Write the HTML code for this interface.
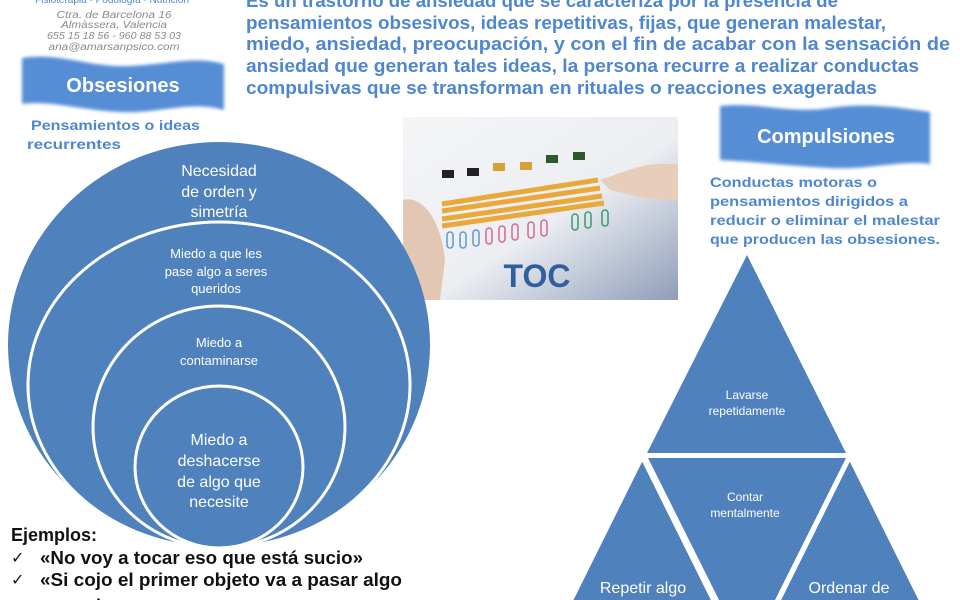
<!DOCTYPE html>
<html><head><meta charset="utf-8"><style>
html,body{margin:0;padding:0;background:#fff;width:960px;height:600px;overflow:hidden}
svg{display:block}
text{font-family:"Liberation Sans",Arial,sans-serif}
</style></head><body>
<svg width="960" height="600" viewBox="0 0 960 600" xmlns="http://www.w3.org/2000/svg">
<defs>
<filter id="bl" x="-5%" y="-10%" width="110%" height="120%"><feGaussianBlur stdDeviation="1.5"/></filter>
<linearGradient id="ph" x1="0" y1="0" x2="1" y2="1">
<stop offset="0" stop-color="#f4f5f7"/><stop offset="0.55" stop-color="#eceef2"/><stop offset="0.8" stop-color="#b9c2d3"/><stop offset="1" stop-color="#8f9db8"/>
</linearGradient>
</defs>

<text x="112" y="3" font-size="10" fill="#4f86d0" text-anchor="middle">Fisioterapia · Podología · Nutrición</text>
<g font-size="10" fill="#8a8a8a" font-style="italic" text-anchor="middle">
<text x="114" y="18" textLength="115" lengthAdjust="spacingAndGlyphs">Ctra. de Barcelona 16</text>
<text x="114" y="28" textLength="106" lengthAdjust="spacingAndGlyphs">Almàssera, Valencia</text>
<text x="114" y="39" textLength="134" lengthAdjust="spacingAndGlyphs">655 15 18 56 - 960 88 53 03</text>
<text x="114" y="50" textLength="131" lengthAdjust="spacingAndGlyphs">ana@amarsanpsico.com</text>
</g>

<g font-size="18" font-weight="bold" fill="#4f86d0">
<text x="246" y="7" textLength="592" lengthAdjust="spacingAndGlyphs">Es un trastorno de ansiedad que se caracteriza por la presencia de</text>
<text x="246" y="29" textLength="640" lengthAdjust="spacingAndGlyphs">pensamientos obsesivos, ideas repetitivas, fijas, que generan malestar,</text>
<text x="246" y="50" textLength="704" lengthAdjust="spacingAndGlyphs">miedo, ansiedad, preocupación, y con el fin de acabar con la sensación de</text>
<text x="246" y="72" textLength="673" lengthAdjust="spacingAndGlyphs">ansiedad que generan tales ideas, la persona recurre a realizar conductas</text>
<text x="246" y="94" textLength="631" lengthAdjust="spacingAndGlyphs">compulsivas que se transforman en rituales o reacciones exageradas</text>
</g>

<path filter="url(#bl)" fill="#578ed6" d="M22,58 C60,52 90,68 130,66 C170,64 195,56 224,64 L224,110 C190,100 160,114 120,112 C80,110 50,100 22,104 Z"/>
<text x="123" y="92" font-size="20" font-weight="bold" fill="#fff" text-anchor="middle">Obsesiones</text>
<path filter="url(#bl)" fill="#578ed6" d="M720,106 C760,102 790,114 830,108 C870,102 900,108 930,112 L930,164 C900,160 870,170 830,168 C790,166 760,162 720,160 Z"/>
<text x="826" y="143" font-size="20" font-weight="bold" fill="#fff" text-anchor="middle">Compulsiones</text>

<g font-size="14" font-weight="bold" fill="#4f86d0">
<text x="31" y="130" textLength="169" lengthAdjust="spacingAndGlyphs">Pensamientos o ideas</text>
<text x="27" y="149" textLength="94" lengthAdjust="spacingAndGlyphs">recurrentes</text>
<text x="710" y="187" textLength="167" lengthAdjust="spacingAndGlyphs">Conductas motoras o</text>
<text x="710" y="206" textLength="198" lengthAdjust="spacingAndGlyphs">pensamientos dirigidos  a</text>
<text x="710" y="225" textLength="230" lengthAdjust="spacingAndGlyphs">reducir  o eliminar el malestar</text>
<text x="710" y="244" textLength="230" lengthAdjust="spacingAndGlyphs">que producen las obsesiones.</text>
</g>

<rect x="403" y="117" width="275" height="183" fill="url(#ph)"/>
<path d="M403,200 C420,195 440,215 445,260 L440,300 L403,300 Z" fill="#e2c7b4"/>
<path d="M600,180 C630,170 650,160 678,165 L678,200 C650,200 630,195 610,190 Z" fill="#e8cdbb"/>
<g stroke="#e8a83a" stroke-width="5">
<line x1="442" y1="204" x2="598" y2="180"/><line x1="442" y1="211" x2="600" y2="188"/>
<line x1="442" y1="219" x2="602" y2="196"/><line x1="442" y1="226" x2="604" y2="203"/>
</g>
<g fill="#222"><rect x="442" y="170" width="12" height="8"/><rect x="467" y="168" width="12" height="8"/></g>
<g fill="#d9a035"><rect x="493" y="163" width="12" height="8"/><rect x="520" y="162" width="12" height="8"/></g>
<g fill="#2c5a2c"><rect x="546" y="155" width="12" height="8"/><rect x="573" y="152" width="12" height="8"/></g>
<g fill="none" stroke-width="1.5">
<g stroke="#5a9ad0"><rect x="447" y="232" width="6" height="16" rx="3"/><rect x="460" y="232" width="6" height="16" rx="3"/><rect x="473" y="230" width="6" height="16" rx="3"/></g>
<g stroke="#d06a8a"><rect x="486" y="228" width="6" height="16" rx="3"/><rect x="499" y="226" width="6" height="16" rx="3"/><rect x="512" y="224" width="6" height="16" rx="3"/><rect x="528" y="222" width="6" height="16" rx="3"/><rect x="541" y="220" width="6" height="16" rx="3"/></g>
<g stroke="#3a9a6a"><rect x="572" y="214" width="6" height="16" rx="3"/><rect x="585" y="212" width="6" height="16" rx="3"/><rect x="602" y="210" width="6" height="16" rx="3"/></g>
</g>
<text x="537" y="287" font-size="32" font-weight="bold" fill="#2f5f9c" text-anchor="middle">TOC</text>

<g fill="#4f81bd" stroke="#fff" stroke-width="3">
<ellipse cx="219" cy="345" rx="211" ry="203" stroke="none"/>
<ellipse cx="219" cy="385" rx="191" ry="163"/>
<ellipse cx="219" cy="427" rx="126" ry="121"/>
<ellipse cx="219" cy="467" rx="84" ry="81"/>
</g>
<g fill="#fff" text-anchor="middle">
<g font-size="16"><text x="219" y="176">Necesidad</text><text x="219" y="197">de orden y</text><text x="219" y="217">simetría</text></g>
<g font-size="13"><text x="216" y="258">Miedo  a que les</text><text x="216" y="276">pase algo a seres</text><text x="216" y="293">queridos</text></g>
<g font-size="13"><text x="219" y="347">Miedo  a</text><text x="219" y="365">contaminarse</text></g>
<g font-size="16"><text x="219" y="445">Miedo a</text><text x="219" y="466">deshacerse</text><text x="219" y="487">de algo que</text><text x="219" y="507">necesite</text></g>
</g>

<g font-size="18" font-weight="bold" fill="#111">
<text x="11" y="541">Ejemplos:</text>
<text x="40" y="564" textLength="323" lengthAdjust="spacingAndGlyphs">«No voy a tocar eso que está sucio»</text>
<text x="40" y="586" textLength="362" lengthAdjust="spacingAndGlyphs">«Si cojo el primer objeto va a pasar algo</text>
<text x="70" y="612">malo»</text>
</g>
<g font-size="16" fill="#111"><text x="11" y="563">✓</text><text x="11" y="585">✓</text></g>

<g fill="#4f81bd">
<polygon points="747,255 846,453 647,453"/>
<polygon points="648,458 846,458 747,656"/>
<polygon points="643,460 714,603 572,603"/>
<polygon points="849,460 920,603 778,603"/>
</g>
<g stroke="#fff" stroke-width="3">
<line x1="643" y1="460" x2="714" y2="603"/>
<line x1="849" y1="460" x2="778" y2="603"/>
</g>
<g fill="#fff" text-anchor="middle">
<g font-size="12"><text x="747" y="399">Lavarse</text><text x="747" y="415">repetidamente</text></g>
<g font-size="12"><text x="745" y="501">Contar</text><text x="745" y="517">mentalmente</text></g>
<g font-size="16"><text x="643" y="593">Repetir algo</text><text x="849" y="593">Ordenar de</text></g>
</g>
</svg>
</body></html>
